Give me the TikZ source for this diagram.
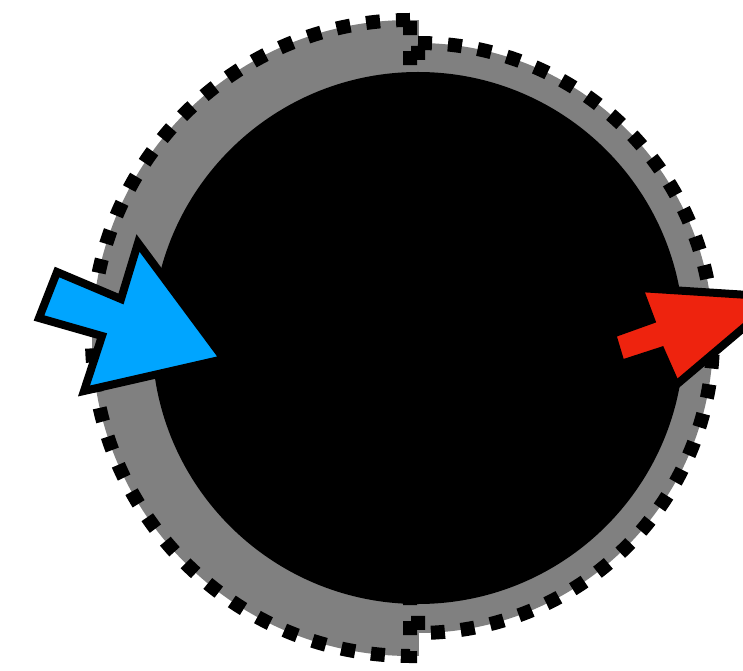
\documentclass[tikz,border=0pt]{standalone}
\usepackage{tikz}
\definecolor{arrblue}{RGB}{0,165,255}
\definecolor{arrred}{RGB}{238,35,14}
\definecolor{halfgray}{RGB}{128,128,128}
\tikzset{
  halffill/.style={fill=halfgray},
  halfline/.style={draw=black, line width=14pt, dash pattern=on 14pt off 16pt},
  core/.style={fill=black},
  arrowshape/.style={draw=black, line width=8pt, line join=miter, miter limit=10}
}
\begin{document}
\begin{tikzpicture}[x=1pt,y=1pt]
\useasboundingbox (0,0) rectangle (743,670);
\clip (0,0) rectangle (743,670);
% gray fills of the two halves
\path[halffill] (410,650) arc[start angle=90, end angle=270, radius=318] -- cycle;
\path[halffill] (418,627) arc[start angle=90, end angle=-90, radius=295] -- cycle;
\path[halffill] (409,14) rectangle (419,650);
% dotted outlines
\path[halfline] (410,650) arc[start angle=90, end angle=270, radius=318] -- cycle;
\path[halfline] (418,627) arc[start angle=90, end angle=-90, radius=295] -- cycle;
% black core
\path[core] (418,332) circle[radius=266];
% blue arrow
\coordinate (ba) at (57,398);
\coordinate (bb) at (39,352);
\coordinate (bc) at (102,334);
\coordinate (bd) at (84,279);
\coordinate (be) at (224,311);
\coordinate (bf) at (138,427);
\coordinate (bg) at (121,371);
\path[arrowshape, fill=arrblue] (ba) -- (bb) -- (bc) -- (bd) -- (be) -- (bf) -- (bg) -- cycle;
% red arrow
\coordinate (ra) at (612,336);
\coordinate (rb) at (621,306);
\coordinate (rc) at (661,319);
\coordinate (rd) at (676,285);
\coordinate (re) at (780,373);
\coordinate (rf) at (639,382);
\coordinate (rg) at (651,350);
\path[arrowshape, fill=arrred] (ra) -- (rb) -- (rc) -- (rd) -- (re) -- (rf) -- (rg) -- cycle;
\end{tikzpicture}
\end{document}
